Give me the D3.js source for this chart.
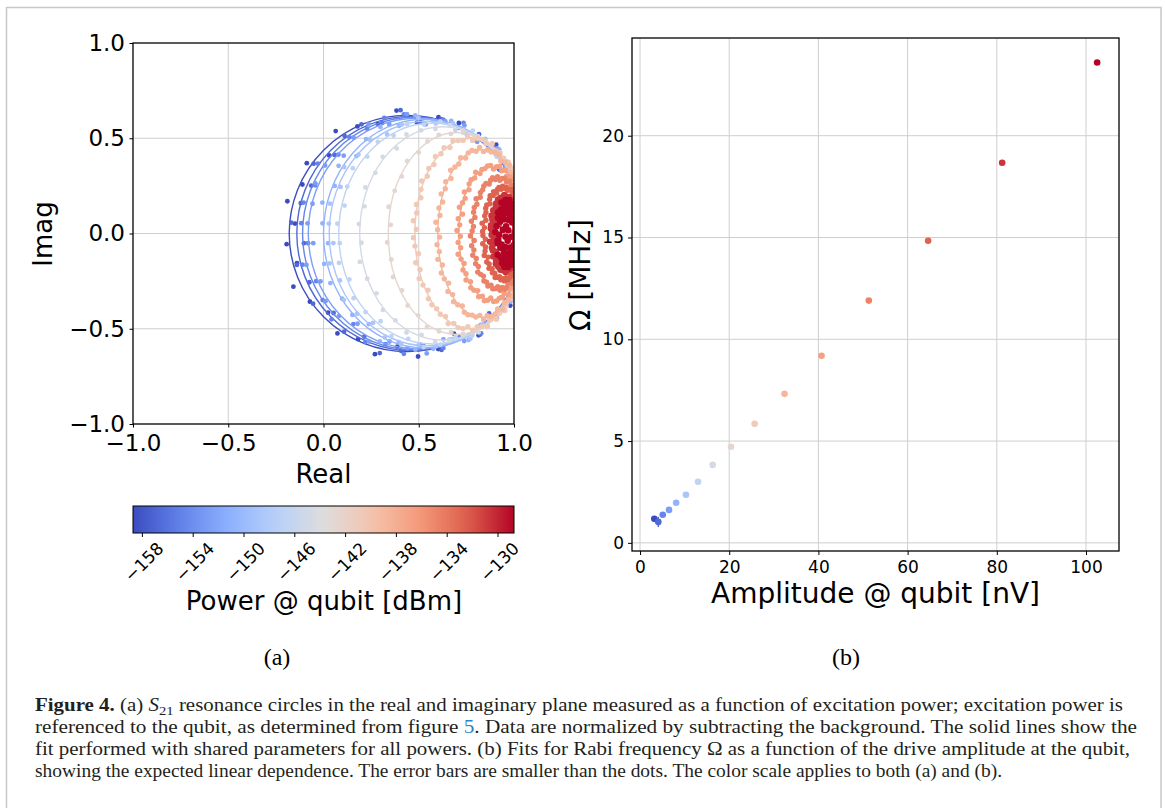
<!DOCTYPE html>
<html>
<head>
<meta charset="utf-8">
<script src="https://cdn.jsdelivr.net/npm/d3@7"></script>
<style>
html, body { margin: 0; padding: 0; background: #fff; }
svg { font-family: "DejaVu Sans", sans-serif; }
</style>
</head>
<body>
<svg id="fig" width="1165" height="808"></svg>
<script>
// excitation power at the qubit [dBm], one entry per resonance trace
const aPower = [-158.7, -156.7, -154.7, -152.7, -150.7, -148.7, -146.7, -144.7,
                -142.7, -140.7, -138.7, -136.7, -134.7, -132.7, -130.7, -128.7];
// (a) leftmost real value reached by each trace (on resonance)
const aLeft = [-0.18, -0.14, -0.11, -0.08, 0.00, 0.03, 0.08, 0.19,
               0.34, 0.48, 0.60, 0.71, 0.78, 0.84, 0.885, 0.93];
// (a) full extent of each trace along the imaginary axis
const aHeight = [1.24, 1.23, 1.22, 1.21, 1.20, 1.18, 1.16, 1.12,
                 1.06, 1.00, 0.88, 0.70, 0.58, 0.48, 0.38, 0.31];
// (a) real value far from resonance for each trace
const aOffRes = [1.06, 1.06, 1.06, 1.06, 1.06, 1.06, 1.06, 1.06,
                 1.06, 1.06, 1.06, 1.06, 1.06, 1.05, 1.02, 0.995];
// (a) normalized detuning of the measured frequency points (low powers)
const aDetuning = [-22.90, -7.596, -4.511, -3.172, -2.414, -1.921, -1.570, -1.303, -1.091,
                   -0.916, -0.767, -0.637, -0.521, -0.414, -0.315, -0.222, -0.132, -0.044,
                   0.044, 0.132, 0.222, 0.315, 0.414, 0.521, 0.637, 0.767, 0.916,
                   1.091, 1.303, 1.570, 1.921, 2.414, 3.172, 4.511, 7.596, 22.90];
// (a) normalized detuning of the measured frequency points (high powers, finer sweep)
const aDetuningFine = [-45.83, -15.26, -9.131, -6.503, -5.027, -4.087, -3.431, -2.946, -2.572,
                       -2.273, -2.028, -1.823, -1.648, -1.497, -1.364, -1.246, -1.140, -1.045,
                       -0.958, -0.877, -0.803, -0.733, -0.668, -0.607, -0.549, -0.493, -0.440,
                       -0.389, -0.339, -0.292, -0.245, -0.199, -0.154, -0.110, -0.066, -0.022,
                       0.022, 0.066, 0.110, 0.154, 0.199, 0.245, 0.292, 0.339, 0.389,
                       0.440, 0.493, 0.549, 0.607, 0.668, 0.733, 0.803, 0.877, 0.958,
                       1.045, 1.140, 1.246, 1.364, 1.497, 1.648, 1.823, 2.028, 2.273,
                       2.572, 2.946, 3.431, 4.087, 5.027, 6.503, 9.131, 15.26, 45.83];
// (a) measurement scatter around the fit (relative) and its size per trace
const aScatter = [0.6, -0.9, 0.3, 1.0, -0.4, 0.8, -1.0, 0.2, 0.7, -0.6, 0.9, -0.2,
                  0.5, -0.8, 0.1, 1.0, -0.5, 0.4, -0.7, 0.8, -0.3, 0.6, -1.0, 0.9,
                  0.0, -0.6, 0.7, -0.9, 0.3, 0.5, -0.4, 1.0, -0.8, 0.2, -0.1, 0.6];
const aNoise = [0.040, 0.035, 0.030, 0.030, 0.025, 0.020, 0.018, 0.015,
                0.012, 0.012, 0.012, 0.012, 0.010, 0.010, 0.012, 0.028];
// (b) drive amplitude at the qubit [nV] and fitted Rabi frequency [MHz]
const aAmplitude = [3.2, 4.1, 5.1, 6.5, 8.1, 10.3, 13.0, 16.3,
                    20.4, 25.7, 32.4, 40.7, 51.3, 64.6, 81.2, 102.5];
const aRabi = [1.18, 1.03, 1.38, 1.62, 1.97, 2.36, 3.00, 3.83,
               4.72, 5.85, 7.32, 9.19, 11.90, 14.84, 18.67, 23.60];
const aRabiErr = [0.05, 0.25, 0.05, 0.05, 0.05, 0.05, 0.05, 0.05,
                  0.05, 0.05, 0.05, 0.05, 0.05, 0.05, 0.05, 0.05];
// tick labels
const aTickIQ = [-1, -0.5, 0, 0.5, 1];
const aTickPower = [-158, -154, -150, -146, -142, -138, -134, -130];
const aTickAmp = [0, 20, 40, 60, 80, 100];
const aTickRabi = [0, 5, 10, 15, 20];
// coolwarm colormap stops
const aCoolwarm = ["#3b4cc0", "#6282ea", "#8db0fe", "#b8d0f9", "#dddddd",
                   "#f5c4ad", "#f49a7b", "#de604d", "#b40426"];

const d3Svg = d3.select("#fig");
const sGrid = "#cfcfcf";
const d3Color = d3.scaleSequential(d3.piecewise(d3.interpolateRgb, aCoolwarm))
    .domain([d3.min(aPower), d3.max(aPower)]);

// outer frame of the figure
d3Svg.append("rect").attr("x", 6.5).attr("y", 7.5).attr("width", 1154.5).attr("height", 830)
    .attr("fill", "none").attr("stroke", "#c8c8c8").attr("stroke-width", 1.5);

// ---------------- (a) resonance circles ----------------
const oA = { left: 133, right: 514, top: 43, bottom: 424 };
const xA = d3.scaleLinear().domain([-1, 1]).range([oA.left, oA.right]);
const yA = d3.scaleLinear().domain([-1, 1]).range([oA.bottom, oA.top]);
const fmt1 = d3.format(".1f");

let g = d3Svg.append("g");
g.selectAll("line.gx").data(aTickIQ.slice(1, -1)).enter().append("line")
    .attr("x1", d => xA(d)).attr("x2", d => xA(d)).attr("y1", oA.top).attr("y2", oA.bottom)
    .attr("stroke", sGrid).attr("stroke-width", 1);
g.selectAll("line.gy").data(aTickIQ.slice(1, -1)).enter().append("line")
    .attr("y1", d => yA(d)).attr("y2", d => yA(d)).attr("x1", oA.left).attr("x2", oA.right)
    .attr("stroke", sGrid).attr("stroke-width", 1);

d3Svg.append("clipPath").attr("id", "clipA").append("rect")
    .attr("x", oA.left).attr("y", oA.top).attr("width", oA.right - oA.left).attr("height", oA.bottom - oA.top);

const gTrace = d3Svg.append("g").attr("clip-path", "url(#clipA)");
aPower.forEach((fPower, i) => {
    const fX0 = aOffRes[i];
    const fD = fX0 - aLeft[i];                // width along the real axis
    const fH = aHeight[i];                    // height along the imaginary axis
    const fCx = fX0 - fD / 2;
    const sColor = d3Color(fPower);
    const aSweep = i >= 9 ? aDetuningFine : aDetuning;
    const aPoint = aSweep.map((t, k) => {
        const f = 1 / (1 + t * t);
        const re = fX0 - fD * f;
        const im = fH * t * f;
        const ux = (re - fCx) / (fD / 2), uy = im / (fH / 2);
        const n = Math.hypot(ux, uy) || 1;
        const e = aScatter[(k + 5 * i) % aScatter.length] * aNoise[i];
        return [re + e * ux / n, im + e * uy / n];
    });
    gTrace.append("g").selectAll("circle").data(aPoint).enter().append("circle")
        .attr("cx", p => xA(p[0])).attr("cy", p => yA(p[1]))
        .attr("r", i >= 14 ? 3.3 : (i >= 9 ? 2.7 : 2.4))
        .attr("fill", sColor);
    gTrace.append("ellipse")
        .attr("cx", xA(fCx)).attr("cy", yA(0))
        .attr("rx", xA(fD / 2) - xA(0)).attr("ry", yA(0) - yA(fH / 2))
        .attr("fill", "none").attr("stroke", sColor).attr("stroke-width", 1.4);
});

let gAxis = d3Svg.append("g").attr("transform", `translate(0,${oA.bottom})`)
    .call(d3.axisBottom(xA).tickValues(aTickIQ).tickFormat(fmt1).tickSize(3.5).tickPadding(7));
gAxis.select(".domain").remove();
gAxis.selectAll("text").attr("font-size", "23px").attr("font-family", "DejaVu Sans");
gAxis = d3Svg.append("g").attr("transform", `translate(${oA.left},0)`)
    .call(d3.axisLeft(yA).tickValues(aTickIQ).tickFormat(fmt1).tickSize(3.5).tickPadding(4.5));
gAxis.select(".domain").remove();
gAxis.selectAll("text").attr("font-size", "23px").attr("font-family", "DejaVu Sans");

d3Svg.append("rect").attr("x", oA.left).attr("y", oA.top)
    .attr("width", oA.right - oA.left).attr("height", oA.bottom - oA.top)
    .attr("fill", "none").attr("stroke", "#000").attr("stroke-width", 1.3);
d3Svg.append("text").text("Real").attr("x", (oA.left + oA.right) / 2).attr("y", 483)
    .attr("text-anchor", "middle").attr("font-size", "26px");
d3Svg.append("text").text("Imag").attr("transform", "translate(52,234) rotate(-90)")
    .attr("text-anchor", "middle").attr("font-size", "26px");

// colorbar
const oCb = { left: 133, right: 514, top: 506, bottom: 533 };
const xCb = d3.scaleLinear().domain(d3Color.domain()).range([oCb.left, oCb.right]);
const d3Grad = d3Svg.append("defs").append("linearGradient").attr("id", "cbGrad");
d3Grad.selectAll("stop").data(d3.range(0, 1.0001, 0.05)).enter().append("stop")
    .attr("offset", d => d).attr("stop-color", d => d3Color(xCb.invert(oCb.left + d * (oCb.right - oCb.left))));
d3Svg.append("rect").attr("x", oCb.left).attr("y", oCb.top)
    .attr("width", oCb.right - oCb.left).attr("height", oCb.bottom - oCb.top)
    .attr("fill", "url(#cbGrad)").attr("stroke", "#000").attr("stroke-width", 1);
gAxis = d3Svg.append("g").attr("transform", `translate(0,${oCb.bottom})`)
    .call(d3.axisBottom(xCb).tickValues(aTickPower).tickFormat(d3.format("d")).tickSize(4));
gAxis.select(".domain").remove();
gAxis.selectAll("text").attr("font-size", "17px").attr("font-family", "DejaVu Sans")
    .attr("x", 0).attr("y", 0).attr("dy", "0.35em").attr("text-anchor", "middle")
    .attr("transform", "translate(1.5,29) rotate(-45)");
d3Svg.append("text").text("Power @ qubit [dBm]").attr("x", 324).attr("y", 610)
    .attr("text-anchor", "middle").attr("font-size", "26px");

// ---------------- (b) Rabi frequency ----------------
const oB = { left: 632, right: 1119, top: 38, bottom: 551 };
const xB = d3.scaleLinear().domain([-1.8, 107.4]).range([oB.left, oB.right]);
const yB = d3.scaleLinear().domain([-0.4, 24.8]).range([oB.bottom, oB.top]);

g = d3Svg.append("g");
g.selectAll("line.gx").data(aTickAmp).enter().append("line")
    .attr("x1", d => xB(d)).attr("x2", d => xB(d)).attr("y1", oB.top).attr("y2", oB.bottom)
    .attr("stroke", sGrid).attr("stroke-width", 1);
g.selectAll("line.gy").data(aTickRabi).enter().append("line")
    .attr("y1", d => yB(d)).attr("y2", d => yB(d)).attr("x1", oB.left).attr("x2", oB.right)
    .attr("stroke", sGrid).attr("stroke-width", 1);

g = d3Svg.append("g");
g.selectAll("line").data(aAmplitude).enter().append("line")
    .attr("x1", (a, i) => xB(a)).attr("x2", (a, i) => xB(a))
    .attr("y1", (a, i) => yB(aRabi[i] - aRabiErr[i])).attr("y2", (a, i) => yB(aRabi[i] + aRabiErr[i]))
    .attr("stroke", (a, i) => d3Color(aPower[i])).attr("stroke-width", 1.5);
g.selectAll("circle").data(aAmplitude).enter().append("circle")
    .attr("cx", (a, i) => xB(a)).attr("cy", (a, i) => yB(aRabi[i])).attr("r", 3.3)
    .attr("fill", (a, i) => d3Color(aPower[i]));

gAxis = d3Svg.append("g").attr("transform", `translate(0,${oB.bottom})`)
    .call(d3.axisBottom(xB).tickValues(aTickAmp).tickSize(4).tickPadding(6));
gAxis.select(".domain").remove();
gAxis.selectAll("text").attr("font-size", "17px").attr("font-family", "DejaVu Sans");
gAxis = d3Svg.append("g").attr("transform", `translate(${oB.left},0)`)
    .call(d3.axisLeft(yB).tickValues(aTickRabi).tickSize(4).tickPadding(4));
gAxis.select(".domain").remove();
gAxis.selectAll("text").attr("font-size", "17px").attr("font-family", "DejaVu Sans");

d3Svg.append("rect").attr("x", oB.left).attr("y", oB.top)
    .attr("width", oB.right - oB.left).attr("height", oB.bottom - oB.top)
    .attr("fill", "none").attr("stroke", "#000").attr("stroke-width", 1.3);
d3Svg.append("text").text("Amplitude @ qubit [nV]").attr("x", (oB.left + oB.right) / 2).attr("y", 603)
    .attr("text-anchor", "middle").attr("font-size", "28px");
d3Svg.append("text").text("Ω [MHz]").attr("transform", "translate(590,275) rotate(-90)")
    .attr("text-anchor", "middle").attr("font-size", "28px");

// panel labels
d3Svg.append("text").text("(a)").attr("x", 277).attr("y", 665).attr("text-anchor", "middle")
    .attr("font-family", "Liberation Serif").attr("font-size", "24px");
d3Svg.append("text").text("(b)").attr("x", 846).attr("y", 665).attr("text-anchor", "middle")
    .attr("font-family", "Liberation Serif").attr("font-size", "24px");

// ---------------- caption ----------------
const aCaption = [
    { y: 711, len: 1088, parts: [["Figure 4.", "b"], [" (a) ", ""], ["S", "i"], ["21", "sub"],
        [" resonance circles in the real and imaginary plane measured as a function of excitation power; excitation power is", ""]] },
    { y: 733, len: 1102, parts: [["referenced to the qubit, as determined from figure ", ""], ["5", "link"],
        [". Data are normalized by subtracting the background. The solid lines show the", ""]] },
    { y: 755, len: 1095, parts: [["fit performed with shared parameters for all powers. (b) Fits for Rabi frequency Ω as a function of the drive amplitude at the qubit,", ""]] },
    { y: 777, len: 967, parts: [["showing the expected linear dependence. The error bars are smaller than the dots. The color scale applies to both (a) and (b).", ""]] }
];
aCaption.forEach(oLine => {
    const t = d3Svg.append("text").attr("x", 35).attr("y", oLine.y)
        .attr("font-family", "Liberation Serif").attr("font-size", "18.5px")
        .attr("textLength", oLine.len).attr("lengthAdjust", "spacingAndGlyphs");
    let bSub = false;
    oLine.parts.forEach(([s, k]) => {
        const ts = t.append("tspan").text(s).attr("fill", "#231f20");
        if (k === "b") ts.attr("font-weight", "bold");
        if (k === "i") ts.attr("font-style", "italic");
        if (k === "link") ts.attr("fill", "#2a86c4");
        if (k === "sub") { ts.attr("dy", 4).attr("font-size", "13px"); bSub = true; }
        else if (bSub) { ts.attr("dy", -4); bSub = false; }
    });
});
</script>
</body>
</html>
